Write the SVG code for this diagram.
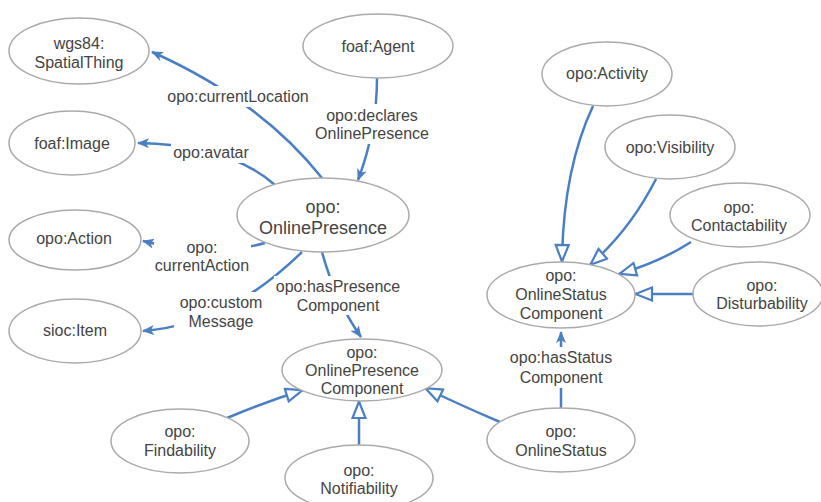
<svg xmlns="http://www.w3.org/2000/svg" width="821" height="502" viewBox="0 0 821 502">
<style>
.node ellipse{fill:#fff;stroke:#aaa;stroke-width:1.5}
text{font-family:"Liberation Sans",Arial,sans-serif;font-size:16px;fill:#444;text-anchor:middle}
.big{font-size:18px}
.edge{fill:none;stroke:#4a7fc4;stroke-width:2.5}
.lbl rect{fill:#fff}
</style>
<defs>
<marker id="arr" viewBox="0 0 12 10" refX="11" refY="5" markerWidth="12" markerHeight="10" orient="auto" markerUnits="userSpaceOnUse">
<path d="M0,0 L12,5 L0,10 L3,5 z" fill="#4a7fc4"/>
</marker>
<marker id="tri" viewBox="0 0 20 16" refX="19" refY="8" markerWidth="20" markerHeight="16" orient="auto" markerUnits="userSpaceOnUse">
<path d="M2,1.5 L18.5,8 L2,14.5 z" fill="#fff" stroke="#4a7fc4" stroke-width="2.2"/>
</marker>
</defs>
<rect width="821" height="502" fill="#fff"/>
<g id="connectors">
<path class="edge" d="M322,178 Q260,100 152,52" marker-end="url(#arr)"/>
<path class="edge" d="M377,78 Q377,130 358,180" marker-end="url(#arr)"/>
<path class="edge" d="M275,185 Q230,145 138,143" marker-end="url(#arr)"/>
<path class="edge" d="M265,243 Q210,258 143,241" marker-end="url(#arr)"/>
<path class="edge" d="M302,252 C265,288 215,325 143,331" marker-end="url(#arr)"/>
<path class="edge" d="M322,252 Q335,300 361,337" marker-end="url(#arr)"/>
<path class="edge" d="M561,408 L561,332" marker-end="url(#arr)"/>
<path class="edge" d="M227,418 Q265,402 303,390" marker-end="url(#tri)"/>
<path class="edge" d="M359,447 L359,401" marker-end="url(#tri)"/>
<path class="edge" d="M500,422 Q460,405 425,388" marker-end="url(#tri)"/>
<path class="edge" d="M593,106 Q563,170 562,262" marker-end="url(#tri)"/>
<path class="edge" d="M656,179 Q630,230 590,265" marker-end="url(#tri)"/>
<path class="edge" d="M691,242 Q660,262 619,274" marker-end="url(#tri)"/>
<path class="edge" d="M693,294 L635,294" marker-end="url(#tri)"/>
<g class="lbl">
<rect x="164" y="86" width="148" height="21"/>
<text x="238" y="102">opo:currentLocation</text>
<rect x="312" y="104" width="122" height="40"/>
<text x="372" y="121">opo:declares</text>
<text x="372" y="139">OnlinePresence</text>
<rect x="171" y="143" width="80" height="20"/>
<text x="211" y="158">opo:avatar</text>
<rect x="154" y="236" width="97" height="37"/>
<text x="202" y="253">opo:</text>
<text x="202" y="271">currentAction</text>
<rect x="174" y="292" width="94" height="37"/>
<text x="221" y="308">opo:custom</text>
<text x="221" y="327">Message</text>
<rect x="274" y="276" width="128" height="39"/>
<text x="338" y="292">opo:hasPresence</text>
<text x="338" y="311">Component</text>
<rect x="505" y="347" width="112" height="41"/>
<text x="561" y="363">opo:hasStatus</text>
<text x="561" y="383">Component</text>
</g>
</g>
<g id="wgs84-SpatialThing" class="node"><ellipse cx="79" cy="51" rx="70" ry="33"/><text x="79" y="49">wgs84:</text><text x="79" y="68">SpatialThing</text></g>
<g id="foaf-Agent" class="node"><ellipse cx="378" cy="46" rx="75" ry="32"/><text x="378" y="52">foaf:Agent</text></g>
<g id="foaf-Image" class="node"><ellipse cx="72" cy="143" rx="63" ry="32"/><text x="72" y="149">foaf:Image</text></g>
<g id="opo-OnlinePresence" class="node"><ellipse cx="323" cy="215" rx="86" ry="37"/><text class="big" x="323" y="213">opo:</text><text class="big" x="323" y="234">OnlinePresence</text></g>
<g id="opo-Action" class="node"><ellipse cx="75" cy="240" rx="66" ry="30"/><text x="74" y="244">opo:Action</text></g>
<g id="sioc-Item" class="node"><ellipse cx="75" cy="331" rx="66" ry="32"/><text x="75" y="336">sioc:Item</text></g>
<g id="opo-OnlinePresenceComponent" class="node"><ellipse cx="362" cy="370" rx="80" ry="31"/><text x="362" y="358">opo:</text><text x="362" y="376">OnlinePresence</text><text x="362" y="394">Component</text></g>
<g id="opo-Findability" class="node"><ellipse cx="180" cy="441" rx="69" ry="32"/><text x="180" y="437">opo:</text><text x="180" y="456">Findability</text></g>
<g id="opo-Notifiability" class="node"><ellipse cx="359" cy="478" rx="74" ry="33"/><text x="359" y="476">opo:</text><text x="359" y="494">Notifiability</text></g>
<g id="opo-OnlineStatus" class="node"><ellipse cx="561" cy="440" rx="74" ry="32"/><text x="561" y="437">opo:</text><text x="561" y="456">OnlineStatus</text></g>
<g id="opo-OnlineStatusComponent" class="node"><ellipse cx="561" cy="295" rx="74" ry="33"/><text x="561" y="281">opo:</text><text x="561" y="300">OnlineStatus</text><text x="561" y="319">Component</text></g>
<g id="opo-Disturbability" class="node"><ellipse cx="758" cy="294" rx="65" ry="32"/><text x="762" y="291">opo:</text><text x="762" y="309">Disturbability</text></g>
<g id="opo-Activity" class="node"><ellipse cx="607" cy="74" rx="65" ry="32"/><text x="607" y="79">opo:Activity</text></g>
<g id="opo-Visibility" class="node"><ellipse cx="670" cy="147" rx="65" ry="32"/><text x="670" y="153">opo:Visibility</text></g>
<g id="opo-Contactability" class="node"><ellipse cx="740" cy="215" rx="70" ry="32"/><text x="739" y="213">opo:</text><text x="739" y="231">Contactability</text></g>
</svg>
